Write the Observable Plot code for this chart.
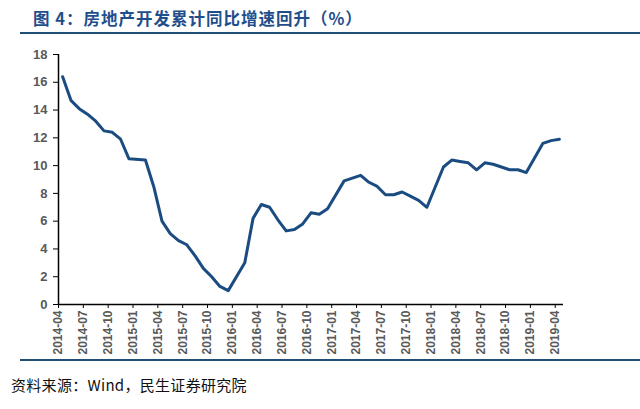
<!DOCTYPE html>
<html><head><meta charset="utf-8">
<script src="https://cdn.jsdelivr.net/npm/d3@7"></script>
<script src="https://cdn.jsdelivr.net/npm/@observablehq/plot@0.6"></script>
<style>
body{margin:0;background:#fff;width:640px;height:409px;position:relative;overflow:hidden}
#title{position:absolute;left:33px;top:8px;font-family:"Noto Sans CJK SC";font-weight:bold;font-size:16.5px;letter-spacing:1px;color:#1f4e8c;line-height:20px;white-space:nowrap}
.rule{position:absolute;left:20px;width:620px;height:2px;background:#1f4e79}
#chart{position:absolute;left:0;top:36px}
#caption{position:absolute;left:11px;top:375px;font-family:"Noto Sans CJK SC";font-size:15px;letter-spacing:0.3px;line-height:20px;color:#111;white-space:nowrap}
</style></head><body>
<div id="title">图 4：房地产开发累计同比增速回升（%）</div>
<div class="rule" style="top:32px"></div>
<div id="chart"></div>
<div class="rule" style="top:359px"></div>
<div id="caption">资料来源：Wind，民生证券研究院</div>
<script>
const months = [
 "2014-04","2014-05","2014-06","2014-07","2014-08","2014-09","2014-10","2014-11","2014-12",
 "2015-02","2015-03","2015-04","2015-05","2015-06","2015-07","2015-08","2015-09","2015-10","2015-11","2015-12",
 "2016-02","2016-03","2016-04","2016-05","2016-06","2016-07","2016-08","2016-09","2016-10","2016-11","2016-12",
 "2017-02","2017-03","2017-04","2017-05","2017-06","2017-07","2017-08","2017-09","2017-10","2017-11","2017-12",
 "2018-02","2018-03","2018-04","2018-05","2018-06","2018-07","2018-08","2018-09","2018-10","2018-11","2018-12",
 "2019-02","2019-03","2019-04"
];
const values = [
 16.4,14.7,14.1,13.7,13.2,12.5,12.4,11.9,10.5,
 10.4,8.5,6.0,5.1,4.6,4.3,3.5,2.6,2.0,1.3,1.0,
 3.0,6.2,7.2,7.0,6.1,5.3,5.4,5.8,6.6,6.5,6.9,
 8.9,9.1,9.3,8.8,8.5,7.9,7.9,8.1,7.8,7.5,7.0,
 9.9,10.4,10.3,10.2,9.7,10.2,10.1,9.9,9.7,9.7,9.5,
 11.6,11.8,11.9
];
const tickLabels = [
 "2014-04","2014-07","2014-10","2015-01","2015-04","2015-07","2015-10","2016-01","2016-04","2016-07","2016-10",
 "2017-01","2017-04","2017-07","2017-10","2018-01","2018-04","2018-07","2018-10","2019-01","2019-04"
];
const yTicks = [0,2,4,6,8,10,12,14,16,18];

const monthIndex = s => (+s.slice(0,4) - 2014) * 12 + (+s.slice(5,7) - 4);
const data = months.map((m, i) => ({t: monthIndex(m) + 0.5, v: values[i]}));
const tickPos = tickLabels.map(monthIndex);
const labelOf = new Map(tickPos.map((p, i) => [p, tickLabels[i]]));
const xMax = monthIndex(tickLabels[tickLabels.length - 1]) + 1;

const chart = Plot.plot({
  width: 640, height: 323,
  marginLeft: 58, marginRight: 77, marginTop: 18, marginBottom: 55,
  x: {type: "linear", domain: [0, xMax]},
  y: {domain: [0, 18]},
  style: {fontFamily: "'Liberation Sans', Arial, sans-serif", background: "#fff"},
  marks: [
    Plot.axisY({ticks: yTicks, tickSize: 5, tickPadding: 6, fontSize: 13, fontWeight: "bold", fill: "#595959", stroke: "#000", label: null}),
    Plot.axisX({ticks: tickPos, tickFormat: d => labelOf.get(d), tickRotate: -90, tickSize: 4, tickPadding: 2, fontSize: 12, fontWeight: "bold", fill: "#595959", stroke: "#000", label: null}),
    Plot.ruleX([0], {y1: 0, y2: 18, stroke: "#000", strokeWidth: 1.5}),
    Plot.ruleY([0], {stroke: "#000", strokeWidth: 1.5}),
    Plot.line(data, {x: "t", y: "v", stroke: "#1a4c82", strokeWidth: 3, strokeLinejoin: "round"})
  ]
});
document.getElementById("chart").append(chart);
</script>
</body></html>
